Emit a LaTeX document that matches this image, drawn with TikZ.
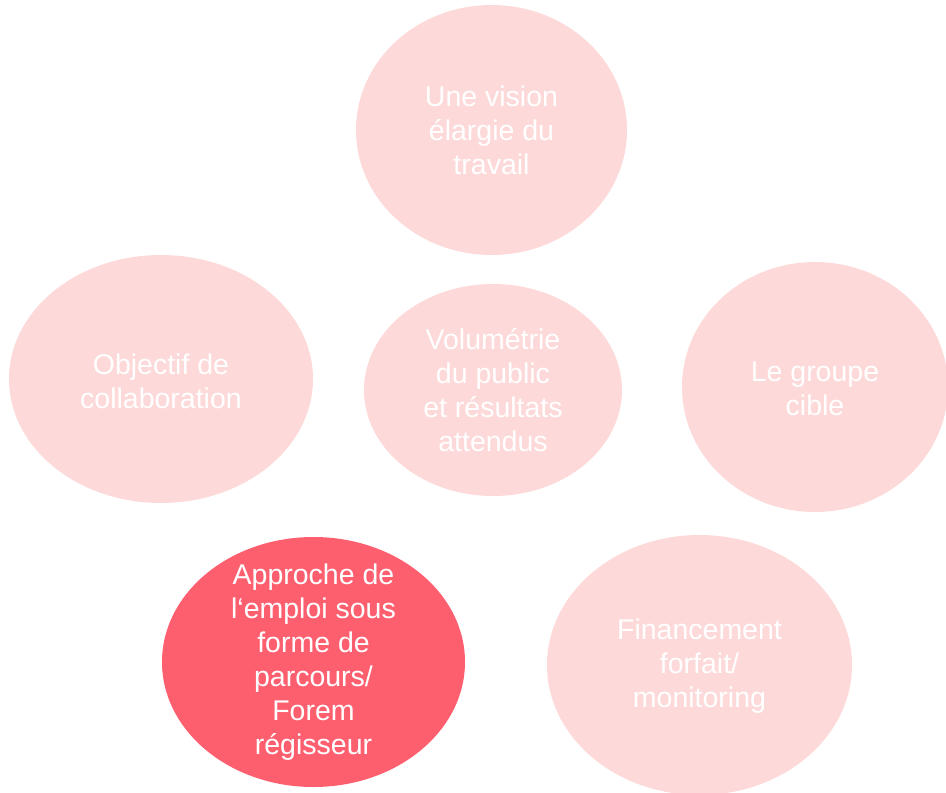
\documentclass[tikz,border=0pt]{standalone}
\usepackage{fontspec}
\setmainfont{Liberation Sans}
\definecolor{lightpink}{HTML}{FDD9D9}
\definecolor{hotpink}{HTML}{FE5F6F}
\begin{document}
\begin{tikzpicture}[x=1pt,y=-1pt,
  bubble/.style={fill=lightpink,draw=none},
  hot/.style={fill=hotpink,draw=none},
  lbl/.style={text=white,align=center,font=\fontsize{28.5}{34}\selectfont}]
\useasboundingbox (0,0) rectangle (946,793);
\fill[bubble] (491.5,130) ellipse [x radius=135.5,y radius=125];
\fill[bubble] (161,379) ellipse [x radius=152,y radius=124];
\fill[bubble] (493,390) ellipse [x radius=129,y radius=106];
\fill[bubble] (815,387) ellipse [x radius=133,y radius=125];
\fill[hot] (313.5,662) ellipse [x radius=151.5,y radius=125];
\fill[bubble] (699.5,665) ellipse [x radius=152.5,y radius=130];
\node[lbl] (a) at (491.5,130) {Une vision\\élargie du\\travail};
\node[lbl] (b) at (161,381) {Objectif de\\collaboration};
\node[lbl] (c) at (493,390) {Volumétrie\\du public\\et résultats\\attendus};
\node[lbl] (d) at (815,389) {Le groupe\\cible};
\node[lbl] (e) at (313.5,662) {Approche de\\l‘emploi sous\\forme de\\parcours/\\Forem\\régisseur};
\node[lbl] (f) at (699.5,666) {Financement\\forfait/\\monitoring};
\end{tikzpicture}
\end{document}
